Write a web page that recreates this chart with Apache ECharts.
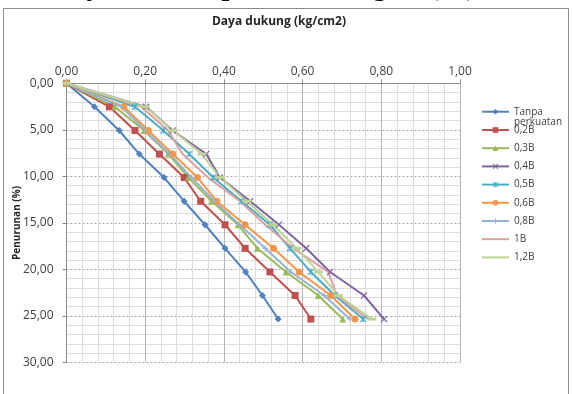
<!DOCTYPE html>
<html>
<head>
<meta charset="utf-8">
<script src="https://cdn.jsdelivr.net/npm/echarts@6/dist/echarts.min.js"></script>
<style>
  html, body { margin: 0; padding: 0; background: #ffffff; }
  #chart { width: 572px; height: 394px; }
</style>
</head>
<body>
<div id="chart"></div>
<script>
// Settlement (%) at each load step, shared by every test
const settlement = [0, 2.53, 5.07, 7.6, 10.13, 12.67, 15.2, 17.73, 20.27, 22.8, 25.33];

// Bearing capacity (kg/cm2) per reinforcement width
const tanpa = [0, 0.071, 0.134, 0.185, 0.248, 0.299, 0.352, 0.403, 0.455, 0.498, 0.538];
const b02   = [0, 0.109, 0.174, 0.236, 0.299, 0.341, 0.403, 0.454, 0.517, 0.581, 0.621];
const b03   = [0, 0.123, 0.197, 0.259, 0.310, 0.369, 0.436, 0.485, 0.558, 0.640, 0.702];
const b04   = [0, 0.202, 0.270, 0.355, 0.390, 0.467, 0.540, 0.609, 0.670, 0.756, 0.807];
const b05   = [0, 0.174, 0.246, 0.312, 0.373, 0.445, 0.517, 0.568, 0.621, 0.682, 0.754];
const b06   = [0, 0.146, 0.208, 0.270, 0.333, 0.382, 0.454, 0.526, 0.591, 0.672, 0.733];
const b08   = [0, 0.140, 0.200, 0.262, 0.318, 0.376, 0.440, 0.505, 0.570, 0.655, 0.720];
const b10   = [0, 0.190, 0.258, 0.295, 0.360, 0.441, 0.505, 0.576, 0.665, 0.687, 0.766];
const b12   = [0, 0.200, 0.271, 0.344, 0.390, 0.458, 0.525, 0.585, 0.640, 0.691, 0.776];

const seriesNames = ['Tanpa perkuatan', '0,2B', '0,3B', '0,4B', '0,5B', '0,6B', '0,8B', '1B', '1,2B'];
const seriesValues = [tanpa, b02, b03, b04, b05, b06, b08, b10, b12];

const xTicks = [0, 0.2, 0.4, 0.6, 0.8, 1.0];
const yTicks = [0, 5, 10, 15, 20, 25, 30];

const colors = ['#4F81BD', '#C0504D', '#9BBB59', '#8064A2', '#4BACC6', '#F79646', '#95B3D7', '#DDA09E', '#BDD494'];

const crossPath = 'path://M0,1.2 L1.2,0 L5,3.8 L8.8,0 L10,1.2 L6.2,5 L10,8.8 L8.8,10 L5,6.2 L1.2,10 L0,8.8 L3.8,5 Z';
const starPath = crossPath + ' M4.3,0 L5.7,0 L5.7,10 L4.3,10 Z';
const plusPath = 'path://M4.2,0 L5.8,0 L5.8,4.2 L10,4.2 L10,5.8 L5.8,5.8 L5.8,10 L4.2,10 L4.2,5.8 L0,5.8 L0,4.2 L4.2,4.2 Z';

const symbols = [
  { symbol: 'diamond', size: 7 },
  { symbol: 'rect', size: 7 },
  { symbol: 'triangle', size: 7 },
  { symbol: crossPath, size: 7 },
  { symbol: starPath, size: 7 },
  { symbol: 'circle', size: 7 },
  { symbol: plusPath, size: 6 },
  { symbol: 'none', size: 0 },
  { symbol: 'rect', size: [9, 3] }
];

const fmt = v => v.toFixed(2).replace('.', ',');
const labelFont = '"Open Sans", "Liberation Sans", sans-serif';

const series = seriesNames.map((name, i) => ({
  name: name,
  type: 'line',
  data: seriesValues[i].map((v, k) => [v, settlement[k]]),
  symbol: symbols[i].symbol,
  symbolSize: symbols[i].size,
  showSymbol: symbols[i].symbol !== 'none',
  color: colors[i],
  lineStyle: { width: 2, color: colors[i] },
  itemStyle: { color: colors[i] },
  animation: false
}));

// Legend entries; the last two lines carry no marker in the key
const legendRest = seriesNames.slice(1).map(name => (
  name === '1B' || name === '1,2B' ? { name: name, itemStyle: { opacity: 0 } } : { name: name }
));

const chart = echarts.init(document.getElementById('chart'), null, { renderer: 'canvas' });

chart.setOption({
  animation: false,
  backgroundColor: '#ffffff',
  title: {
    text: 'Daya dukung (kg/cm2)',
    left: 279,
    top: 16,
    padding: 0,
    textAlign: 'center',
    textStyle: { fontFamily: labelFont, fontSize: 12, fontWeight: 'bold', color: '#262626' }
  },
  grid: { left: 66.5, right: 112, top: 83.3, bottom: 31.5, containLabel: false, outerBoundsMode: 'none' },
  xAxis: {
    type: 'value',
    position: 'top',
    min: xTicks[0],
    max: xTicks[xTicks.length - 1],
    interval: xTicks[1] - xTicks[0],
    axisLine: { show: true, lineStyle: { color: '#8c8c8c', width: 1 } },
    axisTick: { show: true, length: 4, lineStyle: { color: '#8c8c8c' } },
    axisLabel: { formatter: fmt, margin: 6, fontFamily: labelFont, fontSize: 12, color: '#404040' },
    splitLine: { show: true, lineStyle: { color: '#b4b4b4', width: 1 } },
    minorTick: { show: false, splitNumber: 5 },
    minorSplitLine: { show: true, lineStyle: { color: '#dcdcdc', width: 1 } }
  },
  yAxis: {
    type: 'value',
    inverse: true,
    min: yTicks[0],
    max: yTicks[yTicks.length - 1],
    interval: yTicks[1] - yTicks[0],
    name: 'Penurunan (%)',
    nameLocation: 'middle',
    nameGap: 44,
    nameRotate: 90,
    nameMoveOverlap: false,
    nameTextStyle: { fontFamily: labelFont, fontSize: 10, fontWeight: 'bold', color: '#262626' },
    axisLine: { show: true, lineStyle: { color: '#8c8c8c', width: 1 } },
    axisTick: { show: true, length: 4, lineStyle: { color: '#8c8c8c' } },
    axisLabel: { formatter: fmt, margin: 13, fontFamily: labelFont, fontSize: 12, color: '#404040' },
    splitLine: { show: true, lineStyle: { color: '#a8a8a8', width: 1, type: [2, 2] } },
    minorTick: { show: false, splitNumber: 5 },
    minorSplitLine: { show: true, lineStyle: { color: '#dcdcdc', width: 1 } }
  },
  legend: [
    {
      orient: 'vertical',
      left: 481,
      top: 96.7,
      padding: 0,
      itemWidth: 27,
      itemHeight: 7,
      itemGap: 6,
      data: [seriesNames[0]],
      formatter: () => '\nTanpa\nperkuatan',
      textStyle: { fontFamily: labelFont, fontSize: 10, lineHeight: 10, color: '#404040' }
    },
    {
      orient: 'vertical',
      left: 481,
      top: 124,
      padding: 0,
      itemWidth: 27,
      itemHeight: 7,
      itemGap: 6.2,
      data: legendRest,
      textStyle: { fontFamily: labelFont, fontSize: 10, lineHeight: 12, color: '#404040' }
    }
  ],
  graphic: [
    {
      type: 'rect',
      silent: true,
      shape: { x: 3.5, y: 8.5, width: 565, height: 400 },
      style: { fill: 'none', stroke: '#8c8c8c', lineWidth: 1 }
    },
    {
      type: 'text',
      silent: true,
      left: -45,
      top: -26,
      style: {
        text: 'Analisa Daya Terhadap Lebar Geogrid (%)',
        font: 'bold 28px "Liberation Serif", serif',
        fill: '#000000'
      }
    }
  ],
  series: series
});
</script>
</body>
</html>
